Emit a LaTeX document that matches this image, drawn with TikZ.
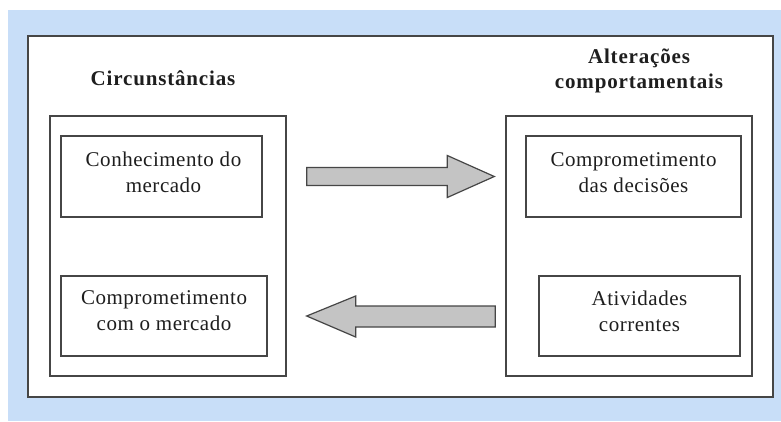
\documentclass[tikz,border=0pt]{standalone}
\usepackage{fontspec}
\setmainfont{Liberation Serif}
\newfontfamily\labelfont[LetterSpace=2.5]{Liberation Serif}
\newfontfamily\titlefont[LetterSpace=4]{Liberation Serif}
\usetikzlibrary{calc}
\definecolor{bgblue}{RGB}{200,222,248}
\definecolor{arrowgray}{RGB}{196,196,196}
\definecolor{edgegray}{RGB}{70,70,70}
\definecolor{txt}{RGB}{30,30,30}
\tikzset{
  frame/.style={draw=edgegray, line width=1.4pt, fill=white, rectangle, inner sep=0pt},
  label/.style={text=txt, font=\labelfont\fontsize{21}{26}\selectfont, align=center, inner sep=0pt},
  title/.style={text=txt, font=\titlefont\fontsize{21}{25}\selectfont\bfseries, align=center, inner sep=0pt},
  blockarrow/.style={fill=arrowgray, draw=edgegray, line width=1.2pt, line join=miter}
}
\begin{document}
\begin{tikzpicture}[x=1pt,y=-1pt]
\useasboundingbox (0,0) rectangle (781,421);
\fill[white] (0,0) rectangle (781,421);
\fill[bgblue] (8,10) rectangle (781,421);
% outer frame
\node[frame, minimum width=745pt, minimum height=361pt] (outer) at (400.5,216.5) {};
% titles
\node[title] (t1) at (163,78) {Circunstâncias};
\node[title] (t2) at (639,71) {Alterações\\comportamentais};
% inner containers
\node[frame, minimum width=236pt, minimum height=260pt] (left) at (168,246) {};
\node[frame, minimum width=246pt, minimum height=260pt] (right) at (629,246) {};
% boxes
\node[frame, minimum width=201pt, minimum height=81pt] (b1) at (161.5,176.5) {};
\node[frame, minimum width=206pt, minimum height=80pt] (b2) at (164,316) {};
\node[frame, minimum width=215pt, minimum height=81pt] (b3) at (633.5,176.5) {};
\node[frame, minimum width=201pt, minimum height=80pt] (b4) at (639.5,316) {};
\node[label] (b1t) at ($(b1.center)+(2,-4)$) {Conhecimento do\\mercado};
\node[label] (b2t) at ($(b2.center)+(0,-5)$) {Comprometimento\\com o mercado};
\node[label] (b3t) at ($(b3.center)+(0,-4)$) {Comprometimento\\das decisões};
\node[label] (b4t) at ($(b4.center)+(0,-5)$) {Atividades\\correntes};
% block arrows
\coordinate (a1s) at ($(left.east |- b1.center)+(20,0)$);
\coordinate (a1e) at ($(right.west |- b1.center)+(-11,0)$);
\draw[blockarrow] ($(a1s)+(0,-9)$) -- ($(a1e)+(-47,-9)$) -- ($(a1e)+(-47,-21)$) -- (a1e)
  -- ($(a1e)+(-47,21)$) -- ($(a1e)+(-47,9)$) -- ($(a1s)+(0,9)$) -- cycle;
\coordinate (a2s) at ($(right.west |- b2.center)+(-10,0)$);
\coordinate (a2e) at ($(left.east |- b2.center)+(20,0)$);
\draw[blockarrow] ($(a2s)+(0,-10)$) -- ($(a2e)+(49,-10)$) -- ($(a2e)+(49,-20)$) -- (a2e)
  -- ($(a2e)+(49,21)$) -- ($(a2e)+(49,11)$) -- ($(a2s)+(0,11)$) -- cycle;
\end{tikzpicture}
\end{document}
